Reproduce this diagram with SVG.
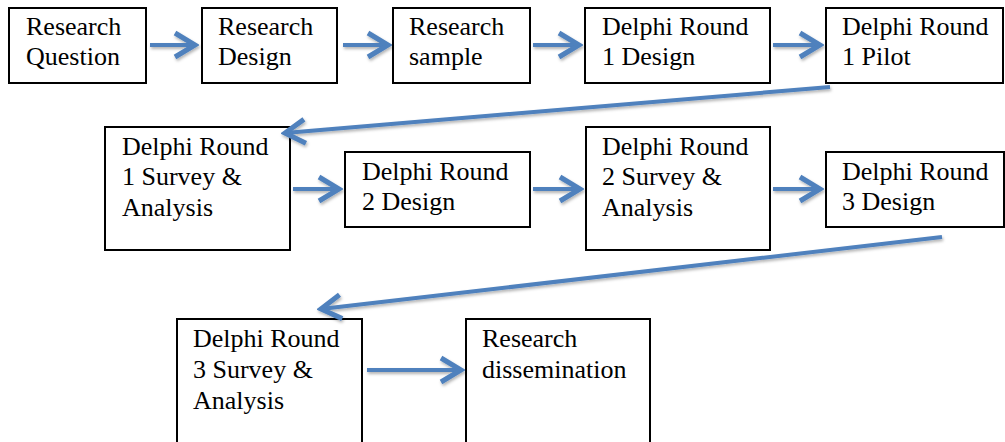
<svg xmlns="http://www.w3.org/2000/svg" width="1005" height="442" viewBox="0 0 1005 442">
<style>
.box{fill:#fff;stroke:#000;stroke-width:2}
.t{font-family:"Liberation Serif","Times New Roman",serif;font-size:26px;fill:#000}
.c{fill:none;stroke:#4F81BD;stroke-width:4;marker-end:url(#ah);filter:url(#sh)}
</style>
<defs>
<marker id="ah" markerUnits="userSpaceOnUse" viewBox="-24 -16 28 32" refX="0" refY="0" markerWidth="28" markerHeight="32" orient="auto">
<path d="M-20,-12 L0,0 L-20,12" fill="none" stroke="#4F81BD" stroke-width="5"/>
</marker>
<filter id="sh" filterUnits="userSpaceOnUse" x="0" y="0" width="1005" height="442">
<feDropShadow dx="1" dy="2" stdDeviation="1.5" flood-color="#000" flood-opacity="0.3"/>
</filter>
</defs>
<g id="n1"><rect class="box" x="9" y="8" width="137" height="75"/><text class="t" x="26" y="35">Research</text><text class="t" x="26" y="65">Question</text></g>
<g id="n2"><rect class="box" x="202" y="8" width="135" height="75"/><text class="t" x="218" y="35">Research</text><text class="t" x="218" y="65">Design</text></g>
<g id="n3"><rect class="box" x="393" y="8" width="137" height="75"/><text class="t" x="409" y="35">Research</text><text class="t" x="409" y="65">sample</text></g>
<g id="n4"><rect class="box" x="585" y="8" width="185" height="75"/><text class="t" x="602" y="35">Delphi Round</text><text class="t" x="602" y="65">1 Design</text></g>
<g id="n5"><rect class="box" x="826" y="8" width="177" height="75"/><text class="t" x="842" y="35">Delphi Round</text><text class="t" x="842" y="65">1 Pilot</text></g>
<g id="n6"><rect class="box" x="105" y="127" width="185" height="123"/><text class="t" x="122" y="155">Delphi Round</text><text class="t" x="122" y="185">1 Survey &amp;</text><text class="t" x="122" y="216">Analysis</text></g>
<g id="n7"><rect class="box" x="345" y="152" width="185" height="75"/><text class="t" x="362" y="180">Delphi Round</text><text class="t" x="362" y="210">2 Design</text></g>
<g id="n8"><rect class="box" x="586" y="127" width="184" height="123"/><text class="t" x="602" y="155">Delphi Round</text><text class="t" x="602" y="185">2 Survey &amp;</text><text class="t" x="602" y="216">Analysis</text></g>
<g id="n9"><rect class="box" x="826" y="152" width="178" height="75"/><text class="t" x="842" y="180">Delphi Round</text><text class="t" x="842" y="210">3 Design</text></g>
<g id="n10"><rect class="box" x="177" y="319" width="185" height="130"/><text class="t" x="193" y="347">Delphi Round</text><text class="t" x="193" y="378">3 Survey &amp;</text><text class="t" x="193" y="409">Analysis</text></g>
<g id="n11"><rect class="box" x="466" y="319" width="184" height="130"/><text class="t" x="482" y="347">Research</text><text class="t" x="482" y="378">dissemination</text></g>
<g id="connectors">
<line class="c" x1="150" y1="45" x2="195" y2="45"/>
<line class="c" x1="343" y1="45" x2="388" y2="45"/>
<line class="c" x1="533" y1="45" x2="579" y2="45"/>
<line class="c" x1="773" y1="45" x2="820" y2="45"/>
<line class="c" x1="830" y1="87" x2="285" y2="133"/>
<line class="c" x1="293" y1="189" x2="339" y2="189"/>
<line class="c" x1="533" y1="189" x2="580" y2="189"/>
<line class="c" x1="773" y1="189" x2="820" y2="189"/>
<line class="c" x1="942" y1="237" x2="321" y2="309"/>
<line class="c" x1="367" y1="370" x2="461" y2="370"/>
</g>
</svg>
